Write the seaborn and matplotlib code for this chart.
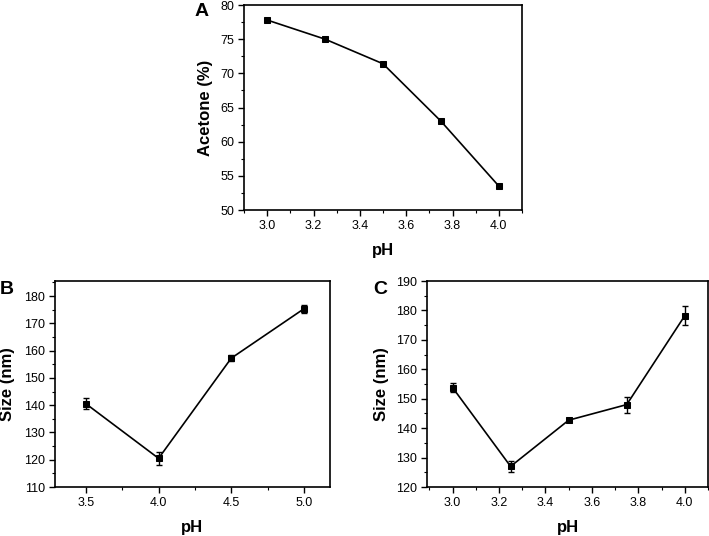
import matplotlib
matplotlib.use("Agg")
import matplotlib.pyplot as plt
from matplotlib.ticker import MultipleLocator
import seaborn as sns
import pandas as pd

sns.set_theme(style="ticks")
plt.rcParams['font.family'] = ['Liberation Sans', 'DejaVu Sans']
plt.rcParams['text.color'] = 'black'
plt.rcParams['axes.labelcolor'] = 'black'

# Panel A
ph_a = [3.0, 3.25, 3.5, 3.75, 4.0]
acetone = [77.8, 75.0, 71.4, 63.0, 53.5]
# Panel B
ph_b = [3.5, 4.0, 4.5, 5.0]
size_b = [140.5, 120.5, 157.2, 175.3]
err_b = [2.0, 2.5, 1.2, 1.5]
# Panel C
ph_c = [3.0, 3.25, 3.5, 3.75, 4.0]
size_c = [153.8, 127.0, 142.7, 148.0, 178.2]
err_c = [1.5, 2.0, 0.7, 2.7, 3.3]

fig = plt.figure(figsize=(7.09, 5.36), dpi=100)
W, H = 709, 536
def ax_px(l, t, r, b):
    return fig.add_axes([l / W, 1 - b / H, (r - l) / W, (b - t) / H])

axA = ax_px(244, 5, 522, 210)
axB = ax_px(55, 281, 330, 487)
axC = ax_px(427, 281, 708, 487)

def style(ax):
    for s in ax.spines.values():
        s.set_linewidth(1.2)
        s.set_color('black')
    ax.tick_params(which='major', direction='out', length=4, width=1, labelsize=9,
                   colors='black', labelcolor='black', pad=3)
    ax.tick_params(which='minor', direction='out', length=2.5, width=0.8, colors='black')
    ax.tick_params(top=False, right=False, which='both')

def draw(ax, x, y, err=None):
    df = pd.DataFrame({'x': x, 'y': y})
    sns.lineplot(data=df, x='x', y='y', ax=ax, color='black', linewidth=1.2,
                 marker='s', markersize=3.8, markeredgecolor='black', markerfacecolor='black')
    if err is not None:
        ax.errorbar(x, y, yerr=err, fmt='none', ecolor='black', elinewidth=1.0, capsize=2.5, capthick=1.0)

def labels(ax, ylabel, ycoord):
    ax.set_xlabel('pH', fontsize=12, fontweight='bold', color='black')
    ax.set_ylabel(ylabel, fontsize=12, fontweight='bold', color='black')
    ax.xaxis.set_label_coords(0.5, -33 / (ax.get_position().height * H))
    ax.yaxis.set_label_coords(ycoord, 0.5)

draw(axA, ph_a, acetone)
axA.set_xlim(2.90, 4.10)
axA.set_ylim(50, 80)
axA.xaxis.set_major_locator(MultipleLocator(0.2))
axA.xaxis.set_minor_locator(MultipleLocator(0.1))
axA.yaxis.set_major_locator(MultipleLocator(5))
axA.yaxis.set_minor_locator(MultipleLocator(2.5))
style(axA)
labels(axA, 'Acetone (%)', -0.11)

draw(axB, ph_b, size_b, err_b)
axB.set_xlim(3.287, 5.18)
axB.set_ylim(110, 185.5)
axB.xaxis.set_major_locator(MultipleLocator(0.5))
axB.xaxis.set_minor_locator(MultipleLocator(0.25))
axB.yaxis.set_major_locator(MultipleLocator(10))
axB.yaxis.set_minor_locator(MultipleLocator(5))
style(axB)
labels(axB, 'Size (nm)', -0.145)

draw(axC, ph_c, size_c, err_c)
axC.set_xlim(2.89, 4.10)
axC.set_ylim(120, 190)
axC.xaxis.set_major_locator(MultipleLocator(0.2))
axC.xaxis.set_minor_locator(MultipleLocator(0.1))
axC.yaxis.set_major_locator(MultipleLocator(10))
axC.yaxis.set_minor_locator(MultipleLocator(5))
style(axC)
labels(axC, 'Size (nm)', -0.135)

fig.text(195 / W, 1 - 11 / H, 'A', fontsize=14, fontweight='bold', va='center', ha='left')
fig.text(0 / W, 1 - 290 / H, 'B', fontsize=14, fontweight='bold', va='center', ha='left')
fig.text(373 / W, 1 - 290 / H, 'C', fontsize=14, fontweight='bold', va='center', ha='left')

fig.savefig('out.png', dpi=100, facecolor='white')
